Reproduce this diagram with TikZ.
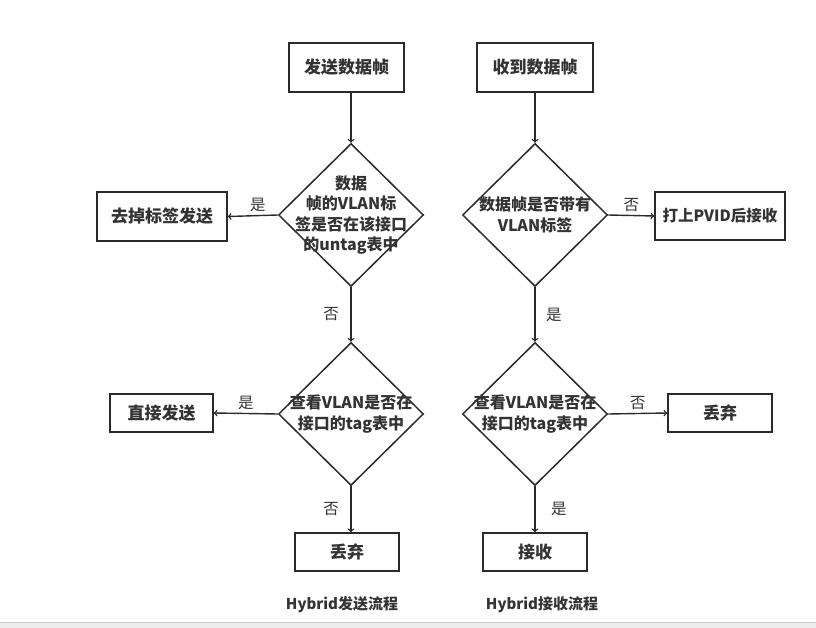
\documentclass[tikz,border=0pt]{standalone}
\usepackage{fontspec}
\setmainfont{Noto Sans CJK SC}
\usepackage{xcolor}
\usepackage{tikz}
\usetikzlibrary{shapes, arrows, positioning, calc}

\definecolor{inkline}{HTML}{2A2A2A}
\definecolor{inktext}{HTML}{333333}

\begin{document}
\begin{tikzpicture}[x=1pt, y=-1pt,
    every node/.style={text=inktext},
    procbox/.style={draw=inkline, line width=1.5pt, inner sep=0pt, font=\fontsize{17}{20}\selectfont\bfseries},
    decision/.style={diamond, draw=inkline, line width=1.5pt, inner sep=0pt, minimum width=145pt, minimum height=143pt},
    dtext/.style={align=center, font=\fontsize{16}{20.5}\selectfont\bfseries},
    flow/.style={draw=inkline, line width=1.4pt, ->, >=to},
    answer/.style={font=\fontsize{15.5}{18}\selectfont},
    caption/.style={font=\fontsize{15}{18}\selectfont\bfseries}]

      \useasboundingbox (0,0) rectangle (816,628);
      % screenshot strip at the bottom
      \fill[black!7] (0,622) rectangle (816,628);
      \draw[black!20, line width=1pt] (0,622) -- (816,622);

      % sending side
      \node[procbox, minimum width=115pt, minimum height=49pt] (send) at (346.5,67.5) {发送数据帧};
      \node[decision, label={[dtext]center:数据\\帧的VLAN标\\签是否在该接口\\的untag表中}] (untagq) at (351,215) {};
      \node[procbox, minimum width=130pt, minimum height=49pt] (strip) at (162,216.5) {去掉标签发送};
      \node[decision, label={[dtext]center:查看VLAN是否在\\接口的tag表中}] (tagqL) at (351,414) {};
      \node[procbox, minimum width=103pt, minimum height=38pt] (direct) at (161.5,413) {直接发送};
      \node[procbox, minimum width=104pt, minimum height=38pt] (dropL) at (347,552) {丢弃};
      \node[caption] (capL) at (342,605) {Hybrid发送流程};

      \draw[flow] (send.south -| untagq.north) -- (untagq.north);
      \draw[flow] (untagq.west) -- node[answer, above, pos=0.4] {是} (strip.east);
      \draw[flow] (untagq.south) -- node[answer, left=8pt] {否} (tagqL.north);
      \draw[flow] (tagqL.west) -- node[answer, above] {是} (direct.east);
      \draw[flow] (tagqL.south) -- node[answer, left=8pt] {否} (tagqL.south |- dropL.north);

      % receiving side
      \node[procbox, minimum width=116pt, minimum height=49pt] (recv) at (535,67.5) {收到数据帧};
      \node[decision, label={[dtext]center:数据帧是否带有\\VLAN标签}] (vlanq) at (535,215) {};
      \node[procbox, minimum width=130pt, minimum height=48pt, font=\fontsize{15.5}{18}\selectfont\bfseries] (pvid) at (720,216) {打上PVID后接收};
      \node[decision, label={[dtext]center:查看VLAN是否在\\接口的tag表中}] (tagqR) at (535,414) {};
      \node[procbox, minimum width=104pt, minimum height=38pt] (dropR) at (720,413) {丢弃};
      \node[procbox, minimum width=104pt, minimum height=38pt] (accept) at (535,552) {接收};
      \node[caption] (capR) at (542,605) {Hybrid接收流程};

      \draw[flow] (recv.south) -- (vlanq.north);
      \draw[flow] (vlanq.east) -- node[answer, above] {否} (pvid.west);
      \draw[flow] (vlanq.south) -- node[answer, right=7pt] {是} (tagqR.north);
      \draw[flow] (tagqR.east) -- node[answer, above] {否} (dropR.west);
      \draw[flow] (tagqR.south) -- node[answer, right=12pt] {是} (accept.north);
\end{tikzpicture}
\end{document}
